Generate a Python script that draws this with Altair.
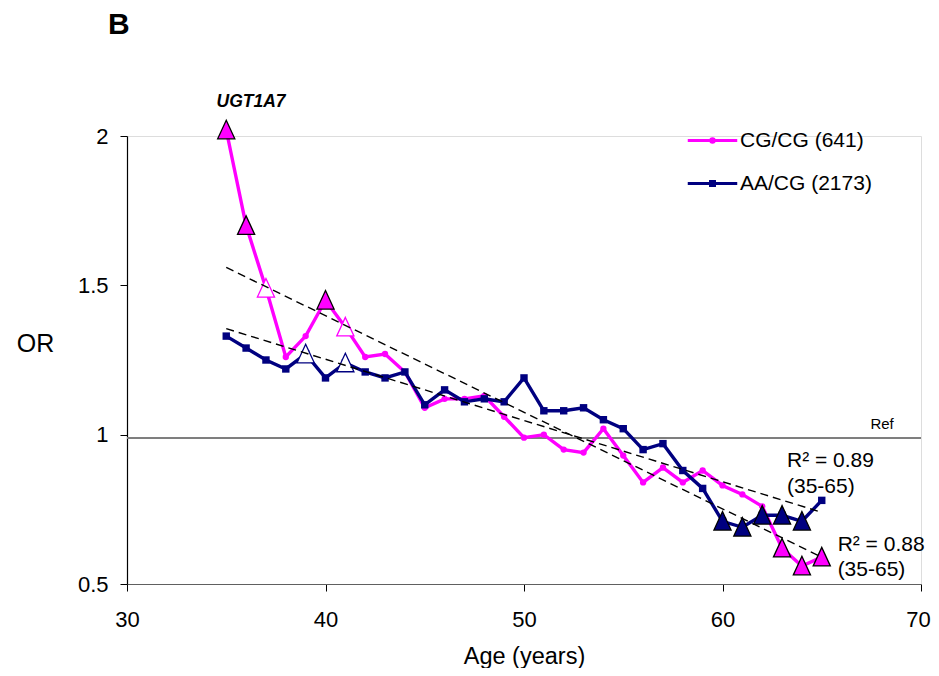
import altair as alt
import pandas as pd

# ---------------- data ----------------
ages = list(range(35, 66))
cgcg_or = [2.02, 1.70, 1.49, 1.26, 1.33, 1.45, 1.36, 1.26, 1.27, 1.21, 1.09,
           1.12, 1.12, 1.13, 1.06, 0.99, 1.00, 0.95, 0.94, 1.02, 0.93, 0.84,
           0.89, 0.84, 0.88, 0.83, 0.80, 0.76, 0.62, 0.56, 0.59]
aacg_or = [1.33, 1.29, 1.25, 1.22, 1.27, 1.19, 1.24, 1.21, 1.19, 1.21, 1.10,
           1.15, 1.11, 1.12, 1.11, 1.19, 1.08, 1.08, 1.09, 1.05, 1.02, 0.95,
           0.97, 0.88, 0.82, 0.71, 0.69, 0.73, 0.73, 0.71, 0.78]
series_names = ["CG/CG (641)", "AA/CG (2173)"]
series_colors = ["#FF00FF", "#000080"]

# ages highlighted with triangles (filled = significant, hollow = borderline)
cgcg_filled = [35, 36, 40, 63, 64, 65]
cgcg_hollow = [37, 41]
aacg_filled = [60, 61, 62, 63, 64]
aacg_hollow = [39, 41]

# linear trend lines (35-65), end points
trend_ages = [35, 65]
cgcg_trend = [1.56, 0.59]
aacg_trend = [1.355, 0.74]
ref_value = 0.99

x_ticks = [30, 40, 50, 60, 70]
y_ticks = [0.5, 1, 1.5, 2]

annot_text = ["R\u00b2 = 0.89", "(35-65)", "R\u00b2 = 0.88", "(35-65)"]
annot_age = [63.25, 63.25, 65.8, 65.8]
annot_or = [0.912, 0.826, 0.630, 0.547]

FONT = "Liberation Sans"

# ---------------- tables ----------------
long_df = pd.DataFrame({
    "age": ages * 2,
    "OR": cgcg_or + aacg_or,
    "series": [series_names[0]] * len(ages) + [series_names[1]] * len(ages),
})

tri_rows = []
for a in cgcg_filled:
    tri_rows.append({"age": a, "OR": cgcg_or[ages.index(a)], "kind": "cg_filled"})
for a in cgcg_hollow:
    tri_rows.append({"age": a, "OR": cgcg_or[ages.index(a)], "kind": "cg_hollow"})
for a in aacg_filled:
    tri_rows.append({"age": a, "OR": aacg_or[ages.index(a)], "kind": "aa_filled"})
for a in aacg_hollow:
    tri_rows.append({"age": a, "OR": aacg_or[ages.index(a)], "kind": "aa_hollow"})
tri_df = pd.DataFrame(tri_rows)
kinds = ["cg_filled", "cg_hollow", "aa_filled", "aa_hollow"]
kind_fill = ["#FF00FF", "#FFFFFF", "#000080", "#FFFFFF"]
kind_stroke = ["#000000", "#FF00FF", "#000000", "#000080"]

trend_df = pd.DataFrame({
    "age": trend_ages * 2,
    "OR": cgcg_trend + aacg_trend,
    "series": [series_names[0]] * 2 + [series_names[1]] * 2,
})

annot_df = pd.DataFrame({"age": annot_age, "OR": annot_or, "text": annot_text})
ref_df = pd.DataFrame({"age": [68.04], "OR": [1.036], "text": ["Ref"]})
gene_df = pd.DataFrame({"age": [36.25], "OR": [2.114], "text": ["UGT1A7"]})

# ---------------- encodings ----------------
x_enc = alt.X(
    "age:Q",
    scale=alt.Scale(domain=[30, 70], nice=False, zero=False),
    axis=alt.Axis(
        values=x_ticks, title="Age (years)", grid=False, tickSize=7,
        tickColor="#000000", domainColor="#606060", domainWidth=1.2,
        labelFont=FONT, labelFontSize=22, labelColor="#000000", labelPadding=18,
        labelFlush=False, labelOverlap=False,
        labelOffset={"condition": {"test": "datum.value == 70", "value": -3}, "value": 0},
        titleFont=FONT, titleFontSize=23.5, titleFontWeight="normal",
        titleColor="#000000", titleY=72, titleBaseline="middle",
    ),
)
y_enc = alt.Y(
    "OR:Q",
    scale=alt.Scale(domain=[0.5, 2], nice=False, zero=False),
    axis=alt.Axis(
        values=y_ticks, format="~g", title="OR", grid=False, tickSize=7,
        tickColor="#000000", domainColor="#000000", domainWidth=1.2,
        labelFont=FONT, labelFontSize=22, labelColor="#000000", labelPadding=12,
        labelFlush=False, labelOverlap=False,
        titleFont=FONT, titleFontSize=25, titleFontWeight="normal",
        titleColor="#000000", titleAngle=0, titleAlign="center",
        titleBaseline="middle", titleX=-92, titleY=207,
    ),
)
color_scale = alt.Scale(domain=series_names, range=series_colors)

base = alt.Chart(long_df)

ref_rule = alt.Chart(long_df).mark_rule(color="#7F7F7F", strokeWidth=1.5).encode(
    y=alt.datum(ref_value)
)

pink = base.transform_filter(alt.datum.series == series_names[0])
navy = base.transform_filter(alt.datum.series == series_names[1])

pink_line = pink.mark_line(strokeWidth=3.4, color=series_colors[0]).encode(
    x=x_enc, y=y_enc
)
navy_line = navy.mark_line(strokeWidth=3.4, color=series_colors[1]).encode(
    x="age:Q", y="OR:Q"
)
pink_pts = pink.mark_point(shape="circle", filled=True, size=40, opacity=1,
                           color=series_colors[0]).encode(x="age:Q", y="OR:Q")
navy_pts = navy.mark_point(shape="square", filled=True, size=55, opacity=1,
                           color=series_colors[1]).encode(x="age:Q", y="OR:Q")

tri_path = "M0,-1L0.88,0.9L-0.88,0.9Z"
triangles = alt.Chart(tri_df).mark_point(
    shape=tri_path, size=380, filled=True, opacity=1, strokeWidth=1.3
).encode(
    x="age:Q", y="OR:Q",
    fill=alt.Fill("kind:N", scale=alt.Scale(domain=kinds, range=kind_fill), legend=None),
    stroke=alt.Stroke("kind:N", scale=alt.Scale(domain=kinds, range=kind_stroke), legend=None),
)

trends = alt.Chart(trend_df).mark_line(
    color="#000000", strokeWidth=1.4, strokeDash=[8, 5]
).encode(x="age:Q", y="OR:Q", detail="series:N")

legend_paths = [
    "M-1,0L1,0M-0.07,0A0.07,0.07 0 1,0 0.07,0A0.07,0.07 0 1,0 -0.07,0Z",
    "M-1,0L1,0M-0.08,-0.08L0.08,-0.08L0.08,0.08L-0.08,0.08Z",
]
leg = alt.Legend(
    title=None, orient="none", legendX=559, legendY=-22, padding=0,
    symbolSize=2450, symbolStrokeWidth=3, symbolOpacity=1,
    labelFont=FONT, labelFontSize=21, labelColor="#000000", labelOffset=1,
    rowPadding=6, labelLimit=400,
)
legend_layer = base.transform_filter("false").mark_point(
    filled=False, opacity=1, strokeWidth=3
).encode(
    x="age:Q", y="OR:Q",
    color=alt.Color("series:N", scale=color_scale, legend=leg),
    shape=alt.Shape("series:N", scale=alt.Scale(domain=series_names, range=legend_paths), legend=leg),
)

annots = alt.Chart(annot_df).mark_text(
    font=FONT, fontSize=21, align="left", baseline="middle", color="#000000"
).encode(x="age:Q", y="OR:Q", text="text:N")

ref_text = alt.Chart(ref_df).mark_text(
    font=FONT, fontSize=15, align="center", baseline="middle", color="#000000"
).encode(x="age:Q", y="OR:Q", text="text:N")

gene_text = alt.Chart(gene_df).mark_text(
    font=FONT, fontSize=17.5, fontWeight="bold", fontStyle="italic",
    align="center", baseline="middle", color="#000000"
).encode(x="age:Q", y="OR:Q", text="text:N")

chart = alt.layer(
    ref_rule, pink_line, navy_line, pink_pts, navy_pts, triangles, trends,
    legend_layer, annots, ref_text, gene_text,
).properties(
    width=794, height=448,
    autosize=alt.AutoSizeParams(type="none"),
    padding={"left": 119, "top": 128, "right": 10, "bottom": 84},
    title=alt.TitleParams(
        text="B", anchor="start", frame="group", font=FONT, fontSize=30,
        fontWeight="bold", color="#000000", dx=-19, offset=53,
    ),
).configure_view(stroke=None).configure(background="white")

chart.save("out.html", embed_options={"renderer": "svg", "actions": False})
